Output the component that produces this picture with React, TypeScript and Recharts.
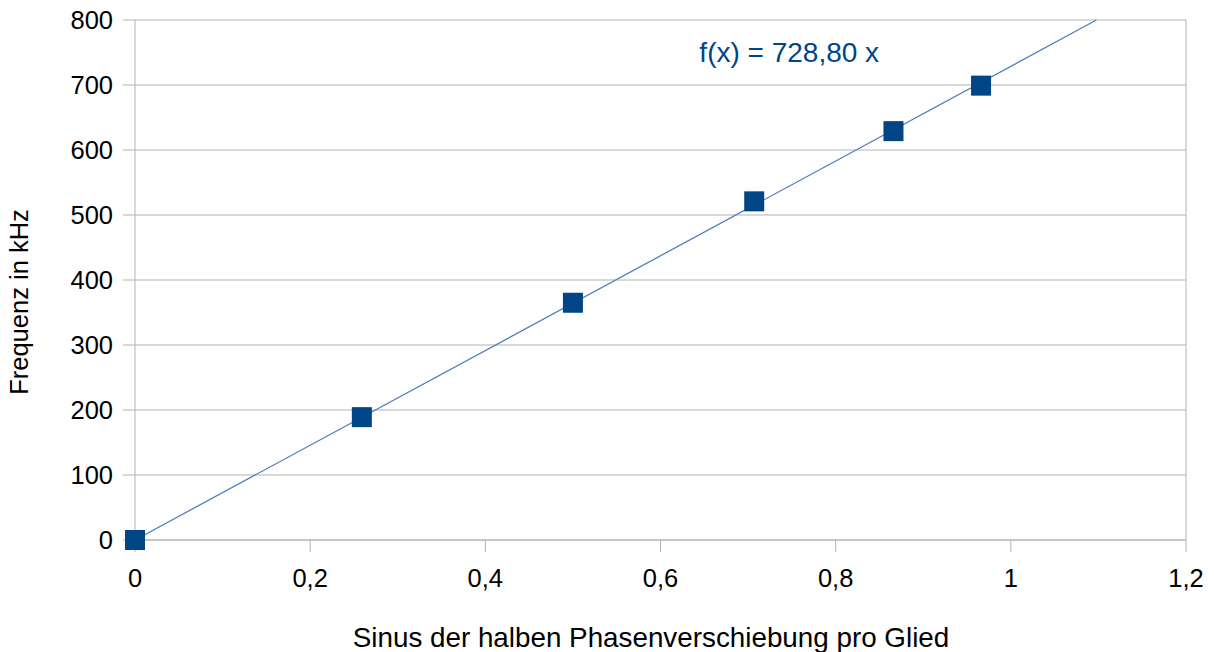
import { ScatterChart, Scatter, XAxis, YAxis, CartesianGrid, ReferenceLine, ReferenceDot } from 'recharts';

// measured points: sine of half the phase shift vs. frequency (kHz)
const SIN_VALUES = [0, 0.259, 0.5, 0.707, 0.866, 0.966];
const FREQ_KHZ = [0, 189, 365, 521, 629, 699];

// regression line f(x) = 728,80 x, from the origin to where it leaves the plot
const TREND_X = [0, 1.0977];
const TREND_Y = [0, 800];

const X_TICKS = [0, 0.2, 0.4, 0.6, 0.8, 1, 1.2];
const Y_TICKS = [0, 100, 200, 300, 400, 500, 600, 700, 800];

const points = SIN_VALUES.map((x, i) => ({ x, y: FREQ_KHZ[i] }));
const trend = TREND_X.map((x, i) => ({ x, y: TREND_Y[i] }));

const FONT = '"Liberation Sans", Arial, sans-serif';
const GRID = '#b3b3b3';
const MARKER = '#004586';

function SquareMarker(props: any) {
  const { cx, cy } = props;
  if (cx == null || cy == null) return <g />;
  return <rect x={cx - 10} y={cy - 10} width={20} height={20} fill={MARKER} />;
}

function formatTick(v: number): string {
  return String(v).replace('.', ',');
}

export default function App() {
  return (
    <div style={{ position: 'absolute', left: 0, top: 0, width: 1214, height: 652, background: '#fff', fontFamily: FONT }}>
      <ScatterChart width={1214} height={652} margin={{ top: 20, right: 28, bottom: 0, left: 0 }}>
        <CartesianGrid vertical={false} stroke={GRID} strokeWidth={1} />
        <XAxis
          type="number"
          dataKey="x"
          domain={[0, 1.2]}
          ticks={X_TICKS}
          tickFormatter={formatTick}
          height={112}
          tickSize={12}
          tickMargin={17}
          stroke={GRID}
          tick={{ fill: '#000', fontSize: 25.5, fontFamily: FONT }}
          label={{
            content: () => (
              <text x={651} y={637} textAnchor="middle" dominantBaseline="central" fontSize={27.8} fontFamily={FONT} fill="#000">
                Sinus der halben Phasenverschiebung pro Glied
              </text>
            ),
          }}
        />
        <YAxis
          type="number"
          dataKey="y"
          domain={[0, 800]}
          ticks={Y_TICKS}
          width={135}
          tickSize={12}
          tickMargin={10}
          stroke={GRID}
          tick={{ fill: '#000', fontSize: 25.5, fontFamily: FONT }}
          label={{
            content: () => (
              <text x={19} y={302} transform="rotate(-90 19 302)" textAnchor="middle" dominantBaseline="central" fontSize={25.5} fontFamily={FONT} fill="#000">
                Frequenz in kHz
              </text>
            ),
          }}
        />
        <ReferenceLine x={1.2} stroke={GRID} strokeWidth={1} />
        <Scatter
          data={trend}
          line={{ stroke: '#4f7fbb', strokeWidth: 1.3 }}
          shape={() => <g />}
          isAnimationActive={false}
        />
        <Scatter data={points} shape={SquareMarker} isAnimationActive={false} />
        <ReferenceDot
          x={0.747}
          y={751}
          r={0}
          fill="none"
          stroke="none"
          label={{ value: 'f(x) = 728,80 x', position: 'center', fill: MARKER, fontSize: 28, fontFamily: FONT }}
        />
      </ScatterChart>
    </div>
  );
}
